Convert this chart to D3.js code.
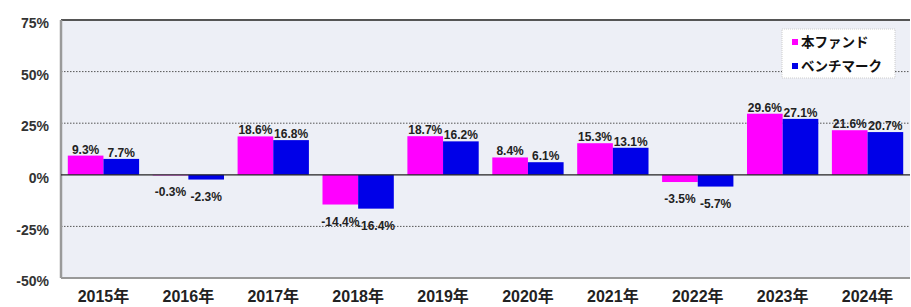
<!DOCTYPE html>
<html>
<head>
<meta charset="utf-8">
<script src="https://cdn.jsdelivr.net/npm/d3@7"></script>
<style>
body { margin: 0; background: #fff; }
svg { display: block; font-family: "Liberation Sans", Arial, "Noto Sans CJK JP", sans-serif; }
</style>
</head>
<body>
<svg width="911" height="307"></svg>
<script>
// data
var years = ["2015年", "2016年", "2017年", "2018年", "2019年", "2020年", "2021年", "2022年", "2023年", "2024年"];
var seriesNames = ["本ファンド", "ベンチマーク"];
var fund = [9.3, -0.3, 18.6, -14.4, 18.7, 8.4, 15.3, -3.5, 29.6, 21.6];
var bench = [7.7, -2.3, 16.8, -16.4, 16.2, 6.1, 13.1, -5.7, 27.1, 20.7];
var yTicks = [75, 50, 25, 0, -25, -50];

var colors = ["#ff00ff", "#0000e8"];
var svg = d3.select("svg");
var plotL = 61, plotR = 910, plotT = 20, plotB = 278;

var x = d3.scaleBand().domain(years).range([plotL, plotR]).paddingInner(0.16).paddingOuter(0.08);
var xs = d3.scaleBand().domain([0, 1]).range([0, x.bandwidth()]);
var y = d3.scaleLinear().domain([-50, 75]).range([plotB, plotT]);

// plot background
svg.append("rect")
  .attr("x", plotL).attr("y", plotT)
  .attr("width", plotR - plotL).attr("height", plotB - plotT)
  .attr("fill", "#edeff6");

// dotted grid
svg.append("g").selectAll("line")
  .data([50, 25, -25]).enter()
  .append("line")
  .attr("x1", plotL).attr("x2", plotR)
  .attr("y1", function (d) { return y(d); })
  .attr("y2", function (d) { return y(d); })
  .attr("stroke", "#555")
  .attr("stroke-width", 1)
  .attr("stroke-dasharray", "1.5,1.5");

// frame
svg.append("line").attr("x1", plotL).attr("x2", plotR).attr("y1", plotT).attr("y2", plotT)
  .attr("stroke", "#555").attr("stroke-width", 2);
svg.append("line").attr("x1", plotL).attr("x2", plotR).attr("y1", plotB).attr("y2", plotB)
  .attr("stroke", "#999").attr("stroke-width", 2);
svg.append("line").attr("x1", plotL).attr("x2", plotL).attr("y1", plotT).attr("y2", plotB)
  .attr("stroke", "#9a9a9a").attr("stroke-width", 2.5);

// y axis labels
var yAxis = svg.append("g")
  .attr("transform", "translate(" + (plotL - 12) + ",0)")
  .call(d3.axisLeft(y).tickValues(yTicks).tickSize(0).tickFormat(function (d) { return d + "%"; }));
yAxis.select(".domain").remove();
yAxis.selectAll("text")
  .attr("x", 0)
  .attr("dy", "0.55em")
  .attr("font-size", 14).attr("font-weight", "bold")
  .attr("fill", "#333")
  .attr("font-family", "Liberation Sans, Arial, sans-serif");

// x axis labels
var xAxis = svg.append("g")
  .attr("transform", "translate(0," + plotB + ")")
  .call(d3.axisBottom(x).tickSize(0));
xAxis.select(".domain").remove();
xAxis.selectAll("text")
  .attr("y", 13)
  .attr("font-size", 16).attr("font-weight", "bold")
  .attr("fill", "#222")
  .attr("font-family", "Liberation Sans, Arial, Noto Sans CJK JP, sans-serif");

// bars
var rows = years.map(function (yr, i) { return { year: yr, vals: [fund[i], bench[i]] }; });
var groups = svg.append("g").selectAll("g")
  .data(rows).enter()
  .append("g")
  .attr("transform", function (d) { return "translate(" + x(d.year) + ",0)"; });

groups.selectAll("rect")
  .data(function (d) { return d.vals.map(function (v, k) { return { k: k, v: v }; }); })
  .enter().append("rect")
  .attr("x", function (d) { return xs(d.k); })
  .attr("width", xs.bandwidth())
  .attr("y", function (d) { return y(Math.max(0, d.v)); })
  .attr("height", function (d) { return Math.abs(y(d.v) - y(0)); })
  .attr("fill", function (d) { return colors[d.k]; });

groups.selectAll("text")
  .data(function (d) { return d.vals.map(function (v, k) { return { k: k, v: v }; }); })
  .enter().append("text")
  .attr("x", function (d) { return xs(d.k) + xs.bandwidth() / 2; })
  .attr("y", function (d) { return d.v >= 0 ? y(d.v) - 2 : y(d.v) + 21; })
  .attr("text-anchor", "middle")
  .attr("font-size", 12).attr("font-weight", "bold")
  .attr("fill", "#222")
  .text(function (d) { return d.v.toFixed(1) + "%"; });

// zero line
svg.append("line").attr("x1", plotL).attr("x2", plotR).attr("y1", y(0)).attr("y2", y(0))
  .attr("stroke", "#222").attr("stroke-width", 1.2);

// legend
var lg = svg.append("g").attr("transform", "translate(782,29)");
lg.append("rect").attr("width", 113).attr("height", 49)
  .attr("fill", "#fff").attr("stroke", "#ccc").attr("stroke-dasharray", "1,1");
seriesNames.forEach(function (name, i) {
  lg.append("rect").attr("x", 10).attr("y", 10 + i * 24).attr("width", 6).attr("height", 6)
    .attr("fill", colors[i]);
  lg.append("text").attr("x", 19).attr("y", 18 + i * 24)
    .attr("font-size", 13.5).attr("font-weight", "bold")
    .attr("font-family", "Noto Sans CJK JP, sans-serif")
    .attr("fill", "#111")
    .text(name);
});
</script>
</body>
</html>
